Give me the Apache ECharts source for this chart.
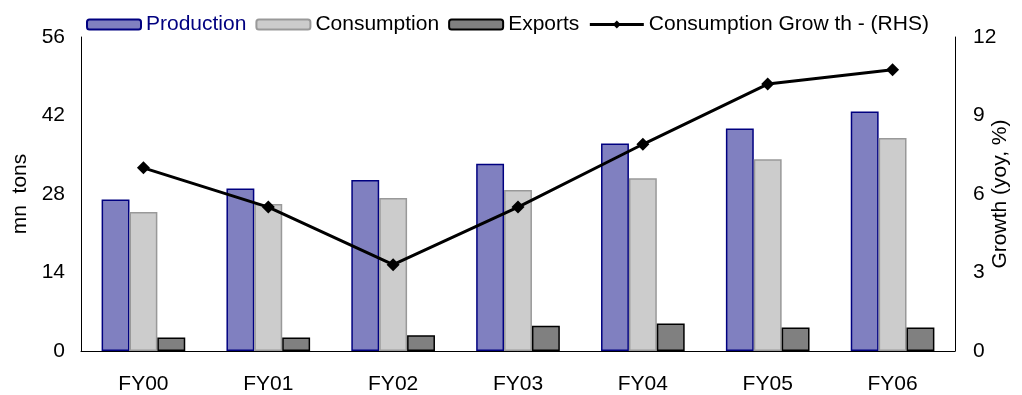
<!DOCTYPE html>
<html>
<head>
<meta charset="utf-8">
<script src="https://cdn.jsdelivr.net/npm/echarts@6/dist/echarts.min.js"></script>
<style>
  html, body { margin: 0; padding: 0; background: #fff; }
  #chart { width: 1022px; height: 395px; }
</style>
</head>
<body>
<div id="chart"></div>
<script>
const years = ['FY00', 'FY01', 'FY02', 'FY03', 'FY04', 'FY05', 'FY06'];
const production = [27.0, 29.0, 30.5, 33.4, 37.0, 39.7, 42.7];
const consumption = [24.8, 26.2, 27.3, 28.7, 30.8, 34.2, 38.0];
const exports_ = [2.4, 2.4, 2.8, 4.5, 4.9, 4.2, 4.2];
const growth = [7.0, 5.5, 3.3, 5.5, 7.9, 10.2, 10.75];

const font = 'Liberation Sans, Arial, sans-serif';

const myChart = echarts.init(document.getElementById('chart'));
let option = {
  animation: false,
  textStyle: { fontFamily: font, color: '#000' },
  grid: { left: 81, right: 67, top: 37, bottom: 44, outerBoundsMode: 'none' },
  legend: {
    left: 81,
    top: 9,
    itemWidth: 54,
    itemHeight: 10,
    itemGap: 9,
    textStyle: { fontFamily: font, fontSize: 21, color: '#000' },
    data: [
      { name: 'Production', textStyle: { color: '#000080' } },
      { name: 'Consumption' },
      { name: 'Exports' },
      { name: 'Consumption Grow th - (RHS)', lineStyle: { width: 3 } }
    ]
  },
  xAxis: {
    type: 'category',
    data: years,
    axisTick: { show: false },
    axisLine: { lineStyle: { color: '#000', width: 1 } },
    axisLabel: { color: '#000', fontSize: 21, margin: 23 }
  },
  yAxis: [
    {
      type: 'value',
      min: 0, max: 56, interval: 14,
      name: 'mn  tons',
      nameLocation: 'middle',
      nameGap: 50,
      nameMoveOverlap: false,
      nameTextStyle: { fontSize: 21, color: '#000' },
      splitLine: { show: false },
      axisLine: { show: true, lineStyle: { color: '#000' } },
      axisTick: { show: false },
      axisLabel: { color: '#000', fontSize: 21, margin: 16 }
    },
    {
      type: 'value',
      min: 0, max: 12, interval: 3,
      name: 'Growth (yoy, %)',
      nameLocation: 'middle',
      nameGap: 35,
      nameMoveOverlap: false,
      nameTextStyle: { fontSize: 21, color: '#000' },
      splitLine: { show: false },
      axisLine: { show: true, lineStyle: { color: '#000' } },
      axisTick: { show: false },
      axisLabel: { color: '#000', fontSize: 21, margin: 18 }
    }
  ],
  series: [
    {
      name: 'Production',
      type: 'bar',
      data: production,
      barGap: '0%',
      barCategoryGap: '33%',
      itemStyle: { color: '#8080C0', borderColor: '#000080', borderWidth: 1.5 }
    },
    {
      name: 'Consumption',
      type: 'bar',
      data: consumption,
      itemStyle: { color: '#CCCCCC', borderColor: '#999999', borderWidth: 1.5 }
    },
    {
      name: 'Exports',
      type: 'bar',
      data: exports_,
      itemStyle: { color: '#808080', borderColor: '#000000', borderWidth: 1.5 }
    },
    {
      name: 'Consumption Grow th - (RHS)',
      type: 'line',
      yAxisIndex: 1,
      data: growth,
      symbol: 'diamond',
      symbolSize: 13,
      lineStyle: { color: '#000', width: 3 },
      itemStyle: { color: '#000' }
    }
  ]
};
myChart.setOption(option);
</script>
</body>
</html>
